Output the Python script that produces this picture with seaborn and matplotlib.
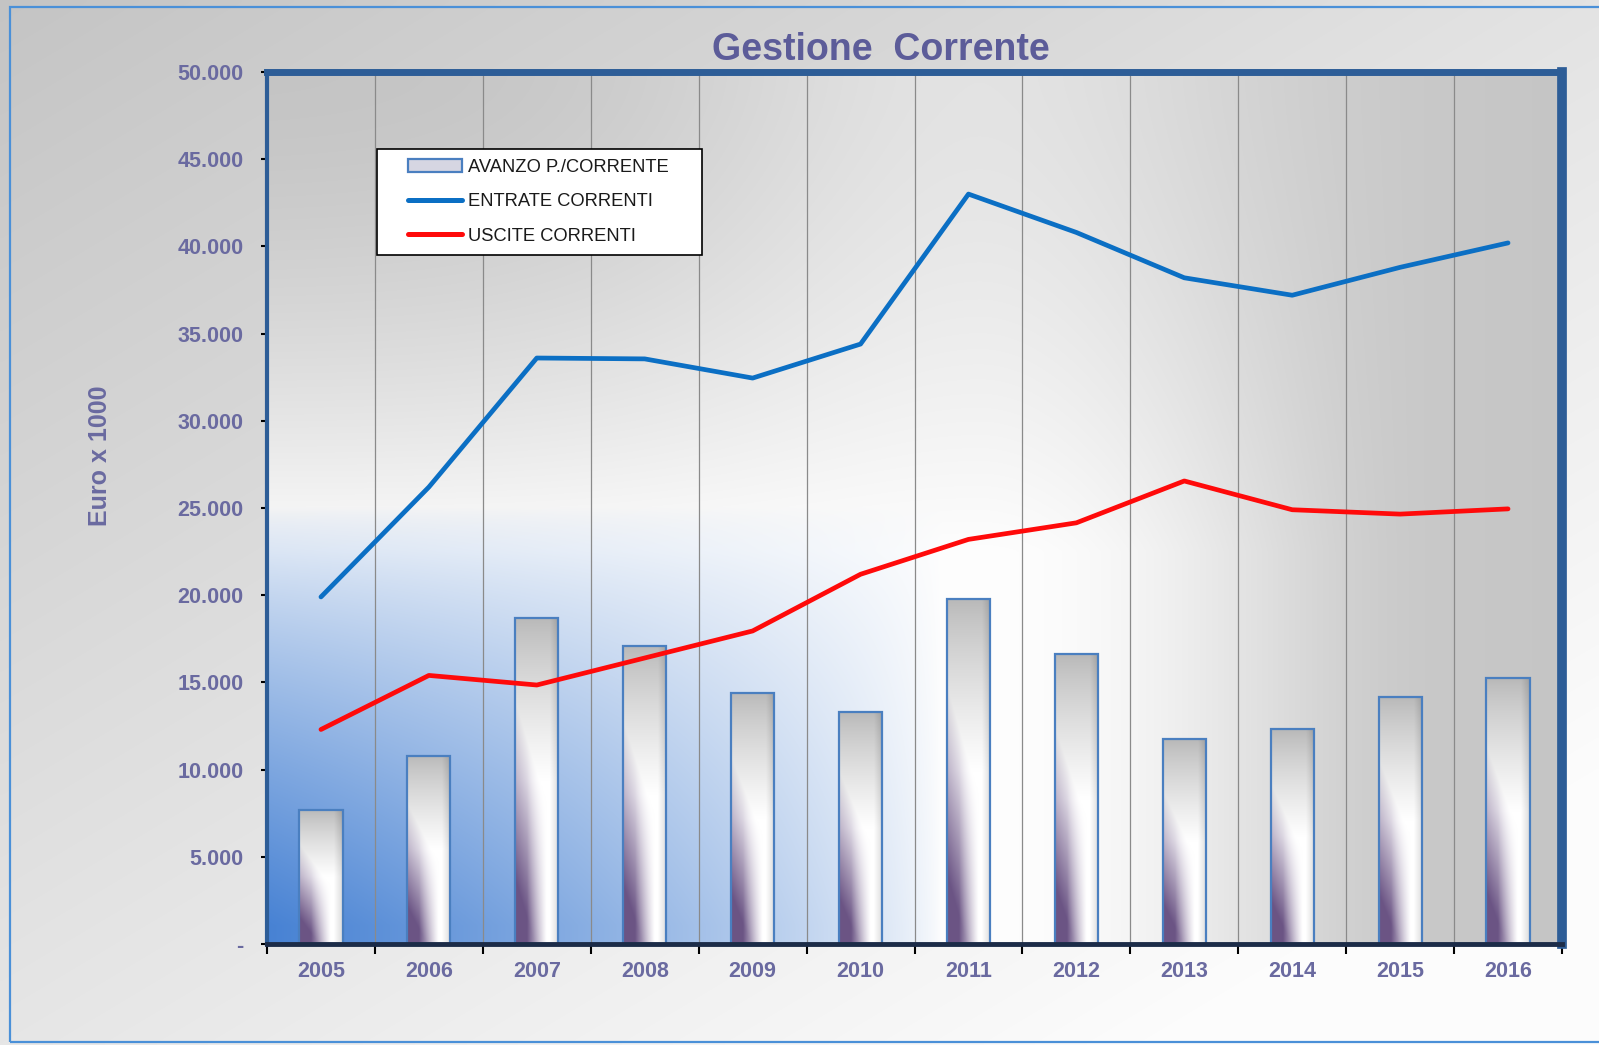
import numpy as np
import matplotlib
matplotlib.use("Agg")
import matplotlib.pyplot as plt
import seaborn as sns
from matplotlib.patches import Patch, Rectangle
from matplotlib.lines import Line2D

# ---------------- data ----------------
years = ['2005', '2006', '2007', '2008', '2009', '2010',
         '2011', '2012', '2013', '2014', '2015', '2016']
avanzo = [7700, 10800, 18700, 17100, 14400, 13300,
          19800, 16600, 11750, 12300, 14150, 15250]
entrate = [19900, 26200, 33600, 33550, 32450, 34400,
           43000, 40800, 38200, 37200, 38800, 40200]
uscite = [12300, 15400, 14850, 16400, 17950, 21200,
          23200, 24150, 26550, 24900, 24650, 24950]
ytick_values = [0, 5000, 10000, 15000, 20000, 25000, 30000, 35000, 40000, 45000, 50000]
ytick_labels = ['-', '5.000', '10.000', '15.000', '20.000', '25.000',
                '30.000', '35.000', '40.000', '45.000', '50.000']
legend_labels = ['AVANZO P./CORRENTE', 'ENTRATE CORRENTI', 'USCITE CORRENTI']
title_text = 'Gestione  Corrente'
ylabel_text = 'Euro x 1000'

# ---------------- style ----------------
sns.set_theme(style='white')
plt.rcParams['font.family'] = ['Liberation Sans', 'DejaVu Sans']

TXT = '#6a6aa0'
BLUE = '#0b6fc4'
RED = '#ff0a0a'
FRAME = '#2d5d97'

W, H = 1599, 1045
fig = plt.figure(figsize=(W / 100, H / 100), dpi=100)

# ---------------- figure background ----------------
bgax = fig.add_axes([0, 0, 1, 1], zorder=-10)
U, V = np.meshgrid(np.linspace(0, 1, 400), np.linspace(0, 1, 300))
g = 0.77 + 0.22 * np.clip(0.55 * U + 0.6 * V, 0, 1)
bgax.imshow(np.dstack([g, g, g]), extent=[0, 1, 0, 1], aspect='auto', interpolation='bilinear')

# plot-area background gradient
ax_l, ax_b, ax_w, ax_h = 267 / W, 1 - 944 / H, (1562 - 267) / W, (944 - 72) / H
U, V = np.meshgrid(np.linspace(0, 1, 500), np.linspace(0, 1, 400))
grey = 0.77 + 0.12 * np.exp(-((U - 0.55) / 0.25) ** 2)
sm = np.clip((U - 0.55) / 0.35, 0, 1)
sm = sm * sm * (3 - 2 * sm)
light = np.clip(V / 0.55, 0, 1) ** 1.6 * (1 - sm)
gg = grey + (1 - grey) * light * 0.95
base = np.dstack([gg, gg, gg])
bluec = np.array([0.28, 0.51, 0.83])
bw = (np.clip((V - 0.5) / 0.48, 0, 1) ** 0.75) * (np.clip(1 - U / 0.52, 0, 1) ** 0.7)
img = base * (1 - bw[..., None]) + bluec * bw[..., None]
bgax.imshow(img, extent=[ax_l, ax_l + ax_w, ax_b, ax_b + ax_h], aspect='auto',
            interpolation='bilinear')
bgax.set_xlim(0, 1)
bgax.set_ylim(0, 1)
bgax.axis('off')
bgax.add_patch(Rectangle((10 / W, 1 - 1042 / H), 1.2, (1042 - 7) / H,
                         transform=bgax.transAxes, fill=False,
                         edgecolor='#4a90d8', lw=1.6, clip_on=False))

# ---------------- main axes ----------------
ax = fig.add_axes([ax_l, ax_b, ax_w, ax_h])
ax.patch.set_alpha(0)

sns.barplot(x=years, y=avanzo, ax=ax, width=0.4, color='white',
            edgecolor='#4a7fc0', linewidth=1.6, zorder=2)

# bar gradient fill
bu, bv = np.meshgrid(np.linspace(0, 1, 60), np.linspace(0, 1, 200))
bg = 0.72 + 0.28 * np.clip(bv / 0.5, 0, 1) ** 0.8
bg = bg * (1 - 0.14 * np.clip((bu - 0.8) / 0.2, 0, 1))
barbase = np.dstack([bg, bg, bg])
purple = np.array([0.42, 0.33, 0.52])
pw = np.clip((bv - 0.45) / 0.55 + (0.45 - bu) * 0.8, 0, 1) * np.clip((0.72 - bu) / 0.45, 0, 1)
bar_img = barbase * (1 - pw[..., None]) + purple * pw[..., None]

for p in list(ax.patches):
    x0, w, h = p.get_x(), p.get_width(), p.get_height()
    ax.imshow(bar_img, extent=[x0, x0 + w, 0, h], aspect='auto',
              zorder=1.8, interpolation='bilinear')
    p.set_facecolor('none')
    p.set_zorder(2)

sns.lineplot(x=years, y=entrate, ax=ax, color=BLUE, linewidth=3.4,
             zorder=3, legend=False)
sns.lineplot(x=years, y=uscite, ax=ax, color=RED, linewidth=3.4,
             zorder=3, legend=False)

ax.set_xlim(-0.5, len(years) - 0.5)
ax.set_ylim(ytick_values[0], ytick_values[-1])
ax.set_aspect('auto')
ax.set_xlabel('')
ax.set_ylabel('')

ax.set_xticks(range(len(years)))
ax.set_xticklabels(years, fontweight='bold', color=TXT, fontsize=15.5)
ax.set_xticks(np.arange(-0.5, len(years), 1.0), minor=True)
ax.set_yticks(ytick_values)
ax.set_yticklabels(ytick_labels, fontweight='bold', color=TXT, fontsize=15.5)

ax.tick_params(axis='x', which='major', bottom=True, length=0, pad=12)
ax.tick_params(axis='x', which='minor', bottom=True, length=7, width=1.5,
               color='black', direction='out')
ax.tick_params(axis='y', which='major', left=True, length=4, width=1.5,
               color='black', direction='out', pad=13)

ax.grid(False)
ax.xaxis.grid(True, which='minor', color='#8a8a8a', lw=0.9, zorder=0.5)
ax.set_axisbelow(True)

ax.spines['left'].set_color(FRAME)
ax.spines['left'].set_linewidth(3)
ax.spines['top'].set_color(FRAME)
ax.spines['top'].set_linewidth(5)
ax.spines['right'].set_color(FRAME)
ax.spines['right'].set_linewidth(7)
ax.spines['bottom'].set_color('#1c2c48')
ax.spines['bottom'].set_linewidth(3.5)

# ---------------- legend ----------------
fig.add_artist(Rectangle((377 / W, 1 - 255 / H), (702 - 377) / W, (255 - 149) / H,
                         transform=fig.transFigure, facecolor='white',
                         edgecolor='black', lw=1.2, zorder=4))
handles = [Patch(facecolor='#d6d6e2', edgecolor='#4a7fc0', lw=1.6),
           Line2D([], [], color=BLUE, lw=3.6),
           Line2D([], [], color=RED, lw=3.6)]
fig.legend(handles, legend_labels, loc='upper left',
           bbox_to_anchor=(408 / W, 1 - 159 / H), frameon=False,
           fontsize=13.2, handlelength=2.95, handletextpad=0.3,
           labelspacing=0.95, borderpad=0, borderaxespad=0,
           labelcolor='#1a1a1a')

# ---------------- titles ----------------
fig.text(881 / W, 1 - 50 / H, title_text, ha='center', va='center',
         fontsize=27, fontweight='bold', color='#5c5c99')
fig.text(100 / W, 1 - 456 / H, ylabel_text, rotation=90, ha='center',
         va='center', fontsize=18, fontweight='bold', color=TXT)

fig.savefig('out.png', dpi=100)
